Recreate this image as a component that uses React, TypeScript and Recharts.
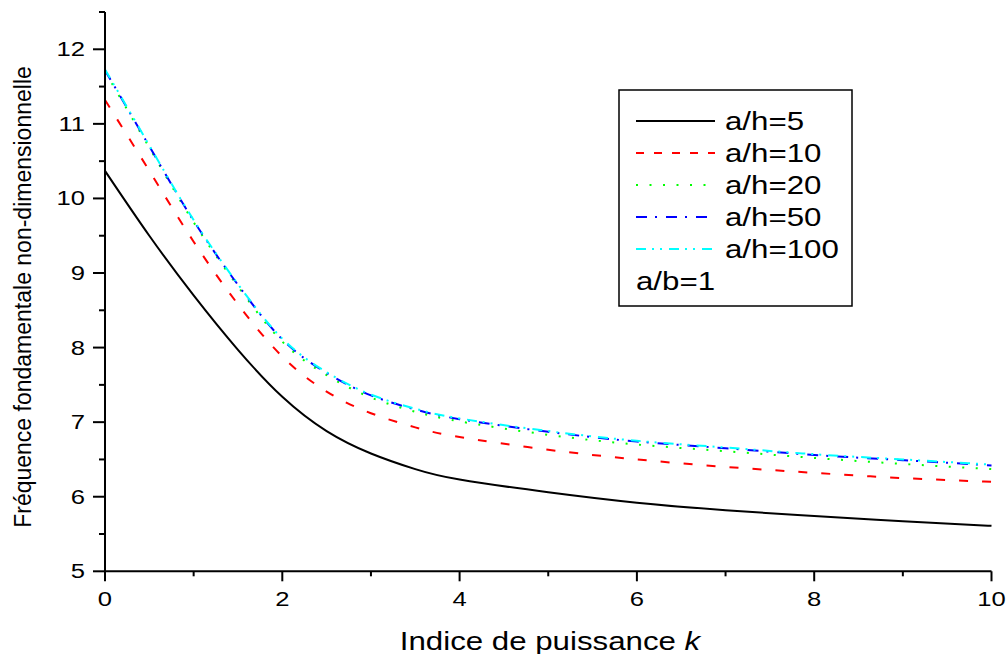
import React from "react";
import { CartesianGrid, Legend, Line, LineChart, XAxis, YAxis } from "recharts";

// power index k
const kValues = [0, 0.5, 1, 1.5, 2, 2.5, 3, 3.5, 4, 5, 6, 7, 8, 9, 10];

// non-dimensional fundamental frequency, one array per a/h ratio (a/b = 1)
const ah5 = [10.37, 9.5, 8.7, 7.97, 7.34, 6.88, 6.58, 6.37, 6.23, 6.06, 5.92, 5.82, 5.74, 5.67, 5.61];
const ah10 = [11.32, 10.37, 9.42, 8.58, 7.88, 7.41, 7.12, 6.93, 6.8, 6.63, 6.5, 6.4, 6.32, 6.25, 6.2];
const ah20 = [11.7, 10.68, 9.68, 8.82, 8.08, 7.63, 7.33, 7.14, 7.01, 6.83, 6.7, 6.61, 6.52, 6.44, 6.37];
const ah50 = [11.72, 10.7, 9.7, 8.84, 8.11, 7.66, 7.36, 7.17, 7.04, 6.87, 6.74, 6.65, 6.56, 6.49, 6.42];
const ah100 = [11.73, 10.71, 9.71, 8.85, 8.12, 7.67, 7.37, 7.18, 7.05, 6.88, 6.75, 6.66, 6.57, 6.5, 6.43];

const xTicks = [0, 1, 2, 3, 4, 5, 6, 7, 8, 9, 10];
const yTicks = [5, 5.5, 6, 6.5, 7, 7.5, 8, 8.5, 9, 9.5, 10, 10.5, 11, 11.5, 12, 12.5];

const series = [
  { key: "ah5", name: "a/h=5", color: "#000000", dash: undefined, legendDash: undefined },
  { key: "ah10", name: "a/h=10", color: "#ff0000", dash: "9 14", legendDash: "8 10" },
  { key: "ah20", name: "a/h=20", color: "#00ff00", dash: "2 11.5", legendDash: "2 11.5" },
  { key: "ah50", name: "a/h=50", color: "#0000ff", dash: "11 8 2 9", legendDash: "11 8 2 9" },
  { key: "ah100", name: "a/h=100", color: "#00ffff", dash: "10 6 2 6 2 7", legendDash: "10 6 2 6 2 7" },
];

const data = kValues.map((k, i) => ({
  k,
  ah5: ah5[i],
  ah10: ah10[i],
  ah20: ah20[i],
  ah50: ah50[i],
  ah100: ah100[i],
}));

const FONT = "'Liberation Sans', Arial, sans-serif";
const STRETCH = 1.25;

function XTick({ x, y, payload }: any) {
  const major = payload.value % 2 === 0;
  return (
    <g>
      <line x1={x} y1={y} x2={x} y2={y + (major ? 10 : 5)} stroke="#000" strokeWidth={2} />
      {major && (
        <text
          transform={`translate(${x},${y + 35}) scale(${STRETCH},1)`}
          textAnchor="middle"
          fontFamily={FONT}
          fontSize={20.5}
          fill="#000"
        >
          {payload.value}
        </text>
      )}
    </g>
  );
}

function YTick({ x, y, payload }: any) {
  const major = Number.isInteger(payload.value);
  return (
    <g>
      <line x1={x} y1={y} x2={x - (major ? 12 : 6)} y2={y} stroke="#000" strokeWidth={2} />
      {major && (
        <text
          transform={`translate(${x - 20},${y + 7}) scale(${STRETCH},1)`}
          textAnchor="end"
          fontFamily={FONT}
          fontSize={20.5}
          fill="#000"
        >
          {payload.value}
        </text>
      )}
    </g>
  );
}

function LegendBox() {
  const rowY = (i: number) => 32 + 32 * i;
  return (
    <svg width={236} height={220} style={{ display: "block" }}>
      <rect x={1} y={1} width={233} height={216} fill="#fff" stroke="#000" strokeWidth={1.5} />
      {series.map((s, i) => (
        <g key={s.key}>
          <line
            x1={18}
            x2={97}
            y1={rowY(i)}
            y2={rowY(i)}
            stroke={s.color}
            strokeWidth={2}
            strokeDasharray={s.legendDash}
          />
          <text
            transform={`translate(107,${rowY(i) + 9}) scale(${STRETCH},1)`}
            fontFamily={FONT}
            fontSize={25}
            fill="#000"
          >
            {s.name}
          </text>
        </g>
      ))}
      <text
        transform={`translate(18,${rowY(5) + 9}) scale(${STRETCH},1)`}
        fontFamily={FONT}
        fontSize={25}
        fill="#000"
      >
        a/b=1
      </text>
    </svg>
  );
}

export default function App() {
  return (
    <div style={{ position: "absolute", left: 0, top: 0, width: 1008, height: 654, background: "#fff" }}>
      <LineChart
        width={1008}
        height={654}
        data={data}
        margin={{ top: 12, right: 16.5, bottom: 0, left: 0 }}
      >
        <CartesianGrid stroke="none" />
        <XAxis
          dataKey="k"
          type="number"
          domain={[0, 10]}
          ticks={xTicks}
          interval={0}
          tickLine={false}
          tickSize={0}
          tickMargin={0}
          tick={<XTick />}
          axisLine={{ stroke: "#000", strokeWidth: 2 }}
          height={82.7}
        />
        <YAxis
          type="number"
          domain={[5, 12.5]}
          ticks={yTicks}
          interval={0}
          tickLine={false}
          tickSize={0}
          tickMargin={0}
          tick={<YTick />}
          axisLine={{ stroke: "#000", strokeWidth: 2 }}
          width={105}
        />
        {series.map((s) => (
          <Line
            key={s.key}
            type="natural"
            dataKey={s.key}
            name={s.name}
            stroke={s.color}
            strokeWidth={2}
            strokeDasharray={s.dash}
            dot={false}
            activeDot={false}
            isAnimationActive={false}
          />
        ))}
        <Legend
          layout="horizontal"
          verticalAlign="middle"
          align="center"
          content={() => <LegendBox />}
          wrapperStyle={{ position: "absolute", left: 618, top: 89, width: 236, height: 220 }}
        />
        <text
          transform={`translate(550,650) scale(${STRETCH},1)`}
          textAnchor="middle"
          fontFamily={FONT}
          fontSize={25}
          fill="#000"
        >
          Indice de puissance <tspan fontStyle="italic">k</tspan>
        </text>
        <text
          transform="translate(31,297) rotate(-90)"
          textAnchor="middle"
          fontFamily={FONT}
          fontSize={23}
          fill="#000"
        >
          Fréquence fondamentale non-dimensionnelle
        </text>
      </LineChart>
    </div>
  );
}
